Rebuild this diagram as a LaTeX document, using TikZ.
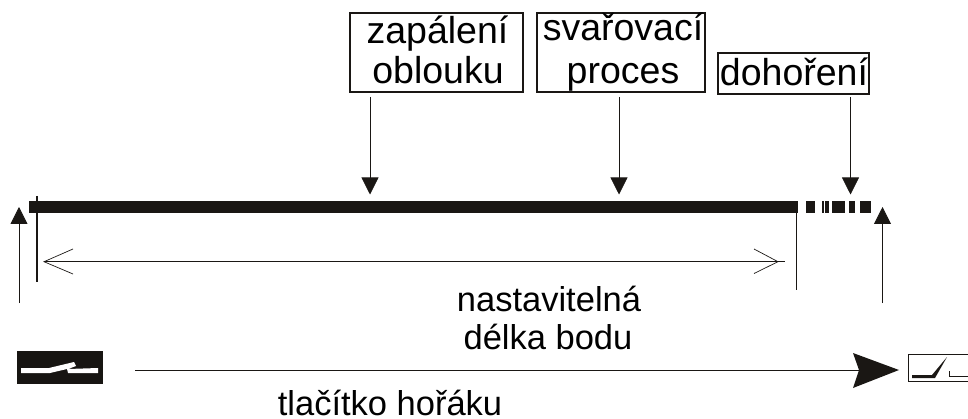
\documentclass[tikz,border=0pt]{standalone}
\usepackage{fontspec}
\setmainfont{Liberation Sans}
\usetikzlibrary{arrows.meta}
\definecolor{ink}{HTML}{1A1714}
\tikzset{
  x=1pt,y=-1pt,
  tbox/.style={draw=ink,line width=1.7pt,inner sep=0pt},
  lab/.style={inner sep=0pt,align=center,text=black,anchor=base},
  big/.style={font=\fontsize{34.5}{40}\selectfont},
  bigger/.style={font=\fontsize{37.5}{42}\selectfont},
  solidhead/.style={-{Triangle[length=17pt,width=17pt,color=ink]}},
  thin line/.style={draw=ink,line width=0.8pt},
  stopper/.style={draw=ink,line width=1.6pt},
  bar/.style={fill=ink,draw=none},
  barb/.style={draw=ink,line width=0.7pt,line join=miter},
}
\begin{document}
\begin{tikzpicture}
\useasboundingbox (0,0) rectangle (968,419);
% text boxes
\node[tbox,minimum width=173pt,minimum height=79pt] (zap) at (436.5,52.5) {};
\node[tbox,minimum width=168pt,minimum height=79pt] (sva) at (621,52.5) {};
\node[tbox,minimum width=151pt,minimum height=41pt] (doh) at (793.5,73.5) {};
\node[lab,bigger] (zap1) at (437.5,44) {zapálení};
\node[lab,bigger] (zap2) at (438,84) {oblouku};
\node[lab,bigger] (sva1) at (623,40.7) {svařovací};
\node[lab,bigger] (sva2) at (623,83.3) {proces};
\node[lab,bigger] (doh1) at (794,86) {dohoření};
% coordinates
\coordinate (zs) at (370,97); \coordinate (ze) at (370,194.5);
\coordinate (ss) at (619,97); \coordinate (se) at (619,194.5);
\coordinate (ds) at (850.5,97); \coordinate (de) at (850.5,194.5);
\coordinate (ls) at (19,303); \coordinate (le) at (19,207);
\coordinate (rs) at (882.5,303); \coordinate (re) at (882.5,207);
\coordinate (lvt) at (37,196); \coordinate (lvb) at (37,282);
\coordinate (rvt) at (796.3,212); \coordinate (rvb) at (796.3,290);
\coordinate (dl) at (44,261.7); \coordinate (dr) at (778,261.7); \coordinate (dre) at (785,261.7);
% bar
\path[bar] (29,200.7) rectangle (798,212.8);
\path[bar] (806,200.7) rectangle (814.7,212.8);
\path[bar] (822.3,200.7) rectangle (823.7,212.8);
\path[bar] (824.7,200.7) rectangle (829,212.8);
\path[bar] (832.3,200.7) rectangle (845,212.8);
\path[bar] (849,200.7) rectangle (855,212.8);
\path[bar] (860,200.7) rectangle (871,212.8);
% arrows
\draw[thin line,solidhead] (zs) -- (ze);
\draw[thin line,solidhead] (ss) -- (se);
\draw[thin line,solidhead] (ds) -- (de);
\draw[thin line,solidhead] (ls) -- (le);
\draw[thin line,solidhead] (rs) -- (re);
\draw[stopper] (lvt) -- (lvb);
\draw[stopper] (rvt) -- (rvb);
\draw[thin line] (dl) -- (dre);
\draw[barb] (73,249) -- (dl) -- (73,274);
\draw[barb] (754,249) -- (dr) -- (754,273.5);
% labels
\node[lab,big] (nas) at (549,312) {nastavitelná};
\node[lab,big] (del) at (548,349.5) {délka bodu};
\node[lab,big] (tla) at (390,415) {tlačítko hořáku};
% open switch symbol
\node[fill=ink!90!black,draw=none,minimum width=86pt,minimum height=33pt,inner sep=0pt] (sw) at (60,367.5) {};
\fill[white] (21,368) -- (49,368) -- (74,362) -- (76,366) -- (68,369) -- (98,368) -- (98,373) -- (68,373) -- (67,369) -- (50,373) -- (21,373) -- cycle;
% main line with big arrow
\coordinate (big) at (859,370);
\draw[draw=ink,line width=0.9pt] (135,370) -- (big);
\fill[ink] (853,353) -- (899,370) -- (853,388) -- (859,370) -- cycle;
% closed switch symbol
\path[draw=ink,line width=0.8pt] (968,354) -- (908,354) -- (908,381) -- (968,381);
\fill[ink] (912,375) -- (932,375) -- (947,357) -- (935,378) -- (912,378) -- cycle;
\draw[draw=ink,line width=0.5pt] (949,371) -- (949,376) -- (968,376);
\end{tikzpicture}
\end{document}
